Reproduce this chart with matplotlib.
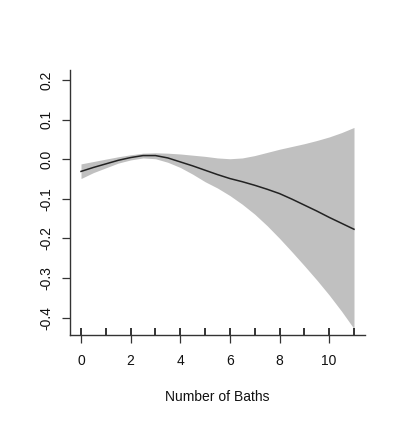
import numpy as np
import matplotlib.pyplot as plt

plt.rcParams['font.family'] = ['Liberation Sans', 'DejaVu Sans']

# smooth term for number of baths, with confidence band
baths = [0, 0.5, 1, 1.5, 2, 2.5, 3, 3.5, 4, 4.5, 5, 5.5, 6, 6.5, 7, 7.5,
         8, 8.5, 9, 9.5, 10, 10.5, 11]
fit = [-0.031, -0.021, -0.012, -0.003, 0.004, 0.009, 0.009, 0.003, -0.007,
       -0.017, -0.028, -0.039, -0.049, -0.057, -0.066, -0.076, -0.087,
       -0.101, -0.116, -0.131, -0.147, -0.162, -0.177]
upper = [-0.012, -0.006, 0.000, 0.006, 0.011, 0.015, 0.016, 0.015, 0.013,
         0.010, 0.007, 0.003, 0.001, 0.003, 0.009, 0.017, 0.025, 0.032,
         0.039, 0.047, 0.056, 0.067, 0.080]
lower = [-0.049, -0.034, -0.022, -0.010, -0.002, 0.003, 0.001, -0.008,
         -0.021, -0.038, -0.057, -0.073, -0.092, -0.114, -0.139, -0.168,
         -0.200, -0.234, -0.269, -0.305, -0.343, -0.384, -0.428]
rug = [0, 1, 2, 3, 4, 5, 6, 7, 8, 9, 10, 11]
xticks = [0, 2, 4, 6, 8, 10]
yticks = [-0.4, -0.3, -0.2, -0.1, 0.0, 0.1, 0.2]

fig = plt.figure(figsize=(4.01, 4.23), dpi=100)
ax = fig.add_axes([0.1746, 0.208, 0.7354, 0.6265])

ax.fill_between(baths, lower, upper, color='#C0C0C0', lw=0)
ax.plot(baths, fit, color='#222222', lw=1.1)

# rug along the bottom
ax.vlines(rug, 0, 0.026, transform=ax.get_xaxis_transform(),
          color='#111111', lw=1.2)

ax.set_xlim(-0.443, 11.44)
ax.set_ylim(-0.444, 0.225)
ax.set_xticks(xticks)
ax.set_yticks(yticks)
ax.set_yticklabels(['%.1f' % v for v in yticks], rotation=90, va='center')

for s in ['top', 'right']:
    ax.spines[s].set_visible(False)
for s in ['left', 'bottom']:
    ax.spines[s].set_color('#333333')
    ax.spines[s].set_linewidth(1.0)

ax.tick_params(axis='both', direction='out', length=5.8, width=0.9,
               color='#333333', labelsize=10, labelcolor='#111111')
ax.tick_params(axis='x', pad=8)
ax.tick_params(axis='y', pad=6)

ax.set_xlabel('Number of Baths', fontsize=10, labelpad=15.5, color='#111111')

fig.savefig('out.png', dpi=100)
